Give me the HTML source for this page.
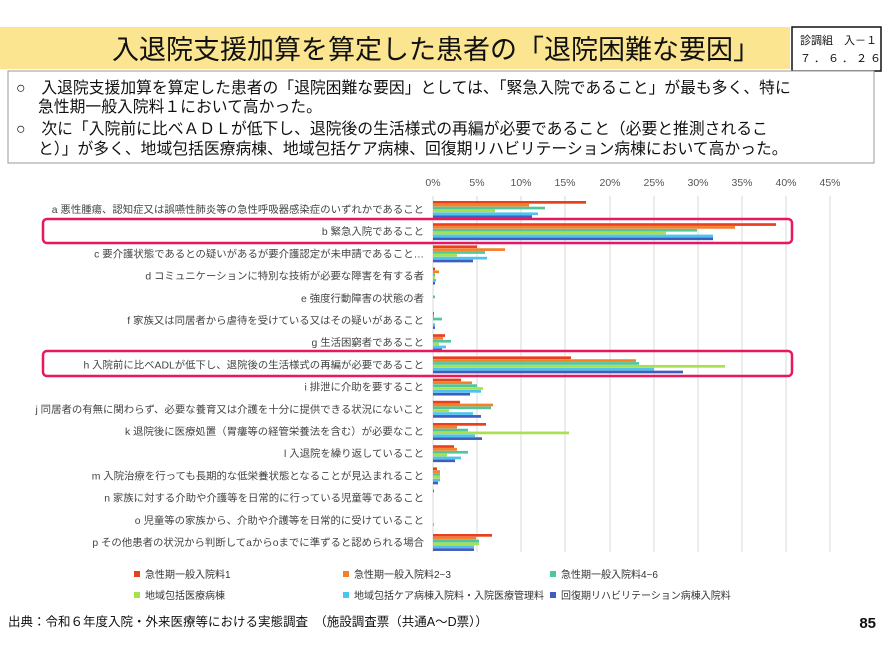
<!DOCTYPE html>
<html><head><meta charset="utf-8"><style>
body{margin:0;background:#fff;}
svg{display:block;font-family:"Liberation Sans","Noto Sans CJK JP",sans-serif;}
</style></head><body>
<svg width="886" height="664" xmlns="http://www.w3.org/2000/svg">
<rect width="886" height="664" fill="#fff"/>
<rect x="0" y="27" width="790" height="42" fill="#fbe590"/>
<text x="436" y="59" font-size="27" text-anchor="middle" fill="#111">入退院支援加算を算定した患者の「退院困難な要因」</text>
<rect x="792" y="27" width="89" height="44" fill="#fff" stroke="#111" stroke-width="1.5"/>
<text x="800" y="44" font-size="11" fill="#111">診調組　入－１</text>
<text x="800" y="62" font-size="11" fill="#111" font-family="Liberation Mono, monospace" letter-spacing="3">７．６．２６</text>
<rect x="8" y="71" width="866" height="92" fill="#fff" stroke="#999" stroke-width="1"/>
<g font-size="15.8" fill="#111">
<text x="16" y="93">○　入退院支援加算を算定した患者の「退院困難な要因」としては、「緊急入院であること」が最も多く、特に</text>
<text x="38" y="112">急性期一般入院料１において高かった。</text>
<text x="16" y="134">○　次に「入院前に比べＡＤＬが低下し、退院後の生活様式の再編が必要であること（必要と推測されるこ</text>
<text x="38" y="154">と）」が多く、地域包括医療病棟、地域包括ケア病棟、回復期リハビリテーション病棟において高かった。</text>
</g>
<g font-size="10.5" fill="#555" text-anchor="middle">
<text x="433" y="186">0%</text><text x="477" y="186">5%</text><text x="521" y="186">10%</text><text x="565" y="186">15%</text><text x="610" y="186">20%</text><text x="654" y="186">25%</text><text x="698" y="186">30%</text><text x="742" y="186">35%</text><text x="786" y="186">40%</text><text x="830" y="186">45%</text>
</g>
<g stroke="#d9d9d9" stroke-width="1">
<line x1="433" y1="196" x2="433" y2="552"/><line x1="477" y1="196" x2="477" y2="552"/><line x1="521" y1="196" x2="521" y2="552"/><line x1="565" y1="196" x2="565" y2="552"/><line x1="610" y1="196" x2="610" y2="552"/><line x1="654" y1="196" x2="654" y2="552"/><line x1="698" y1="196" x2="698" y2="552"/><line x1="742" y1="196" x2="742" y2="552"/><line x1="786" y1="196" x2="786" y2="552"/><line x1="830" y1="196" x2="830" y2="552"/>
</g>
<g id="bars"></g>
<g font-size="10.4" fill="#444" text-anchor="end" id="labels"></g>
<rect x="43" y="219" width="749" height="24" rx="4" fill="none" stroke="#e8185f" stroke-width="2.5"/>
<rect x="43" y="351" width="749" height="25" rx="4" fill="none" stroke="#e8185f" stroke-width="2.5"/>
<g font-size="10" fill="#333">
<rect x="134" y="571" width="6" height="6" fill="#e8401c"/><text x="145" y="578">急性期一般入院料1</text>
<rect x="343" y="571" width="6" height="6" fill="#f5802a"/><text x="354" y="578">急性期一般入院料2~3</text>
<rect x="550" y="571" width="6" height="6" fill="#4fc79b"/><text x="561" y="578">急性期一般入院料4~6</text>
<rect x="134" y="592" width="6" height="6" fill="#a8e04e"/><text x="145" y="599">地域包括医療病棟</text>
<rect x="343" y="592" width="6" height="6" fill="#4fc3f0"/><text x="354" y="599">地域包括ケア病棟入院料・入院医療管理料</text>
<rect x="550" y="592" width="6" height="6" fill="#3f5dbf"/><text x="561" y="599">回復期リハビリテーション病棟入院料</text>
</g>
<text x="8" y="626" font-size="12.5" fill="#111">出典：令和６年度入院・外来医療等における実態調査　（施設調査票（共通A～D票））</text>
<text x="876" y="628" font-size="15" font-weight="bold" fill="#111" text-anchor="end">85</text>
<script>
var cols=["#e8401c","#f5802a","#4fc79b","#a8e04e","#4fc3f0","#3f5dbf"];
var d=[[586,529,545,495,538,532],[776,735,697,666,713,713],[477,505,485,457,487,473],[435,439,435,435,436,435],[433,433,435,433,433,433],[434,434,442,433,435,435],[445,443,451,439,446,442],[571,636,639,725,654,683],[461,472,477,483,481,470],[460,493,491,449,473,481],[486,457,468,569,475,482],[454,457,468,447,461,455],[437,440,440,440,440,438],[434,433,433,433,433,433],[433,433,433,433,434,433],[492,476,479,479,474,474]];
var L=["a 悪性腫瘍、認知症又は誤嚥性肺炎等の急性呼吸器感染症のいずれかであること","b 緊急入院であること","c 要介護状態であるとの疑いがあるが要介護認定が未申請であること…","d コミュニケーションに特別な技術が必要な障害を有する者","e 強度行動障害の状態の者","f 家族又は同居者から虐待を受けている又はその疑いがあること","g 生活困窮者であること","h 入院前に比べADLが低下し、退院後の生活様式の再編が必要であること","i 排泄に介助を要すること","j 同居者の有無に関わらず、必要な養育又は介護を十分に提供できる状況にないこと","k 退院後に医療処置（胃瘻等の経管栄養法を含む）が必要なこと","l 入退院を繰り返していること","m 入院治療を行っても長期的な低栄養状態となることが見込まれること","n 家族に対する介助や介護等を日常的に行っている児童等であること","o 児童等の家族から、介助や介護等を日常的に受けていること","p その他患者の状況から判断してaからoまでに準ずると認められる場合"];
var ns="http://www.w3.org/2000/svg",bg=document.getElementById("bars"),lg=document.getElementById("labels");
for(var i=0;i<16;i++){var y0=201+i*22.2;
for(var j=0;j<6;j++){var w=d[i][j]-433;if(w<=0)continue;var r=document.createElementNS(ns,"rect");r.setAttribute("x",433);r.setAttribute("y",y0+j*2.85);r.setAttribute("width",w);r.setAttribute("height",2.7);r.setAttribute("fill",cols[j]);bg.appendChild(r);}
var t=document.createElementNS(ns,"text");t.setAttribute("x",424);t.setAttribute("y",y0+12);t.textContent=L[i];lg.appendChild(t);}
</script>
</svg>
</body></html>
